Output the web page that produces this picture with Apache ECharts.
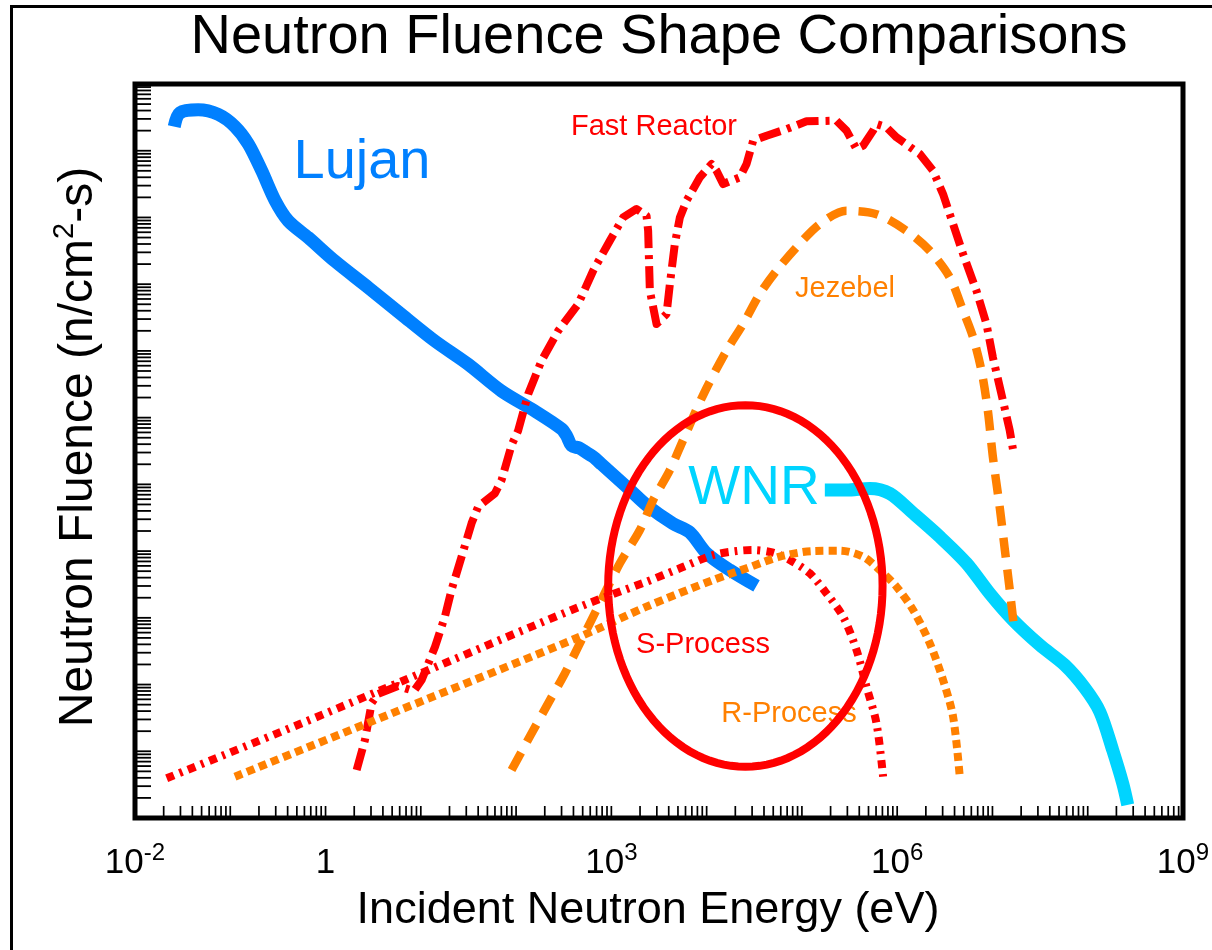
<!DOCTYPE html>
<html>
<head>
<meta charset="utf-8">
<title>Neutron Fluence Shape Comparisons</title>
<script src="https://cdn.jsdelivr.net/npm/echarts@6/dist/echarts.min.js"></script>
<style>
  html, body { margin: 0; padding: 0; background: #fff; }
  #chart { width: 1212px; height: 950px; }
</style>
</head>
<body>
<div id="chart"></div>
<script>
// Incident neutron energy (eV) and relative fluence for each spectrum shape

// Lujan moderated spallation source
const lujanE = [0.0258, 0.0296, 0.0461, 0.0748, 0.112, 0.155, 0.214, 0.295, 0.406, 0.658, 1.26, 2.81, 6.30, 14.1, 31.4, 70.5, 157, 300, 340, 382, 460, 527, 640, 789, 1563, 2339, 4416, 6668, 9977, 17500, 33400];
const lujanF = [2.3e10, 3.7e10, 4.1e10, 3.5e10, 2.3e10, 1.26e10, 5.0e9, 1.8e9, 8.9e8, 5.0e8, 2.2e8, 8.9e7, 3.5e7, 1.4e7, 6.3e6, 2.5e6, 1.26e6, 6.8e5, 5.3e5, 3.8e5, 3.5e5, 3.1e5, 2.6e5, 2.0e5, 8.3e4, 4.9e4, 2.6e4, 1.9e4, 9.3e3, 5.2e3, 3.0e3];

// WNR unmoderated spallation source
const wnrE = [1.74e5, 2.94e5, 5.15e5, 8.36e5, 1.47e6, 2.8e6, 5.33e6, 9.4e6, 1.64e7, 3.13e7, 5.74e7, 9.3e7, 1.34e8, 1.83e8, 2.33e8, 2.63e8];
const wnrF = [8.2e4, 8.2e4, 8.7e4, 7.3e4, 3.7e4, 1.64e4, 6.6e3, 2.3e3, 927, 392, 196, 89, 39, 10.4, 3.3, 1.57];

// Fast reactor spectrum
const fastE = [2.12, 2.59, 3.05, 3.55, 5.75, 8.47, 10.2, 14.1, 17.9, 21.0, 26.8, 34.1, 40.0, 60.0, 70.5, 89.7, 105, 134, 185, 277, 449, 644, 964, 1330, 1837, 2339, 2432, 2535, 2979, 3793, 4111, 4634, 5236, 6152, 8492, 11250, 12700, 14890, 22300, 26240, 30760, 42560, 68870, 111700, 230700, 293800, 374100, 438500, 558500, 606700, 772700, 984000, 1.73e6, 2.38e6, 3.03e6, 3.86e6, 4.92e6, 6.79e6, 8.65e6, 1.01e7, 1.29e7, 1.52e7, 1.64e7];
const fastF = [5.24, 14.7, 52.9, 72.1, 95.1, 80.0, 117, 369, 1040, 2612, 8240, 26060, 46240, 73450, 116200, 389000, 636800, 2.26e6, 7.13e6, 2.01e7, 5.05e7, 1.59e8, 4.48e8, 1.00e9, 1.34e9, 1.06e9, 6.32e8, 7.98e7, 2.53e7, 3.57e7, 1.00e8, 4.0e8, 1.0e9, 1.78e9, 3.99e9, 6.32e9, 5.01e9, 3.17e9, 3.99e9, 6.32e9, 1.41e10, 1.68e10, 2.11e10, 2.76e10, 2.82e10, 2.0e10, 1.06e10, 1.19e10, 2.0e10, 2.51e10, 2.24e10, 1.59e10, 8.93e9, 5.01e9, 2.24e9, 7.97e8, 2.83e8, 7.98e7, 2.53e7, 8.01e6, 1.79e6, 6.37e5, 3.39e5];

// Jezebel critical assembly
const jezE = [89.7, 145.5, 217, 325, 449, 644, 1228, 1991, 2748, 4111, 5662, 9183, 16180, 24150, 36140, 54080, 87700, 154200, 293800, 606700, 1.25e6, 2.20e6, 3.56e6, 4.92e6, 6.26e6, 7.67e6, 8.93e6, 1.01e7, 1.19e7, 1.35e7, 1.52e7, 1.71e7];
const jezF = [5.24, 18.6, 52.3, 147, 369, 1040, 6560, 20700, 58300, 164000, 462000, 2.18e6, 1.01e7, 2.53e7, 7.13e7, 1.59e8, 3.57e8, 7.97e8, 1.26e9, 1.12e9, 6.32e8, 3.17e8, 1.27e8, 4.0e7, 1.60e7, 5.05e6, 1.30e6, 2.60e5, 46200, 10400, 2610, 586];

// Stellar s-process (kT ~ 30 keV) and r-process spectra
const sProcE = [0.0215, 0.538, 20.2, 467, 2339, 5236, 11700, 20600, 30760, 49900, 74650, 121000, 181000, 270600, 374100, 476400, 606700, 711300];
const sProcF = [3.94, 25.6, 225, 1468, 3476, 5520, 8730, 10030, 10380, 9460, 7350, 4645, 2330, 1040, 329, 92.8, 26.2, 4.16];
const rProcE = [0.112, 6.04, 467, 2339, 11700, 26240, 58600, 131200, 250000, 438500, 656000, 984000, 1.47e6, 2.20e6, 3.03e6, 3.86e6, 4.54e6];
const rProcF = [4.16, 41.5, 521, 1468, 3690, 5520, 8240, 10030, 10140, 8240, 5200, 2926, 1309, 415, 117, 33.0, 4.16];

// Highlighted astrophysical region: centre (eV, fluence) and half-axes in decades
const regionCenter = [2.55e4, 3.0e3];
const regionHalfDecades = [1.44, 2.71];

// Axis ranges and labelled energies
const xRange = [1e-2, 1e9];
const yRange = [1, 1e11];
const xLabelValues = [1e-2, 1, 1e3, 1e6, 1e9];
const xLabelBase = ['10', '1', '10', '10', '10'];
const xLabelExp = ['-2', '', '3', '6', '9'];

const FONT = '"Liberation Sans", Arial, Helvetica, sans-serif';
const RED = '#ff0000';
const ORANGE = '#ff8000';
const BLUE = '#0080ff';
const CYAN = '#00d4ff';

function pairs(xs, ys) { return xs.map((x, i) => [x, ys[i]]); }

// Log tick positions (2..10 within every decade of each axis)
function logTicks(lo, hi) {
  const out = [];
  for (let d = Math.round(Math.log10(lo)); d < Math.round(Math.log10(hi)); d++) {
    for (let k = 2; k <= 10; k++) out.push(k * Math.pow(10, d));
  }
  return out;
}
const xTicks = logTicks(xRange[0], xRange[1]);
const yTicks = logTicks(yRange[0], yRange[1]);

const chart = echarts.init(document.getElementById('chart'), null, { renderer: 'canvas' });

function lineSeries(name, xs, ys, color, width, dash, smooth, z) {
  return {
    name, type: 'line', data: pairs(xs, ys), showSymbol: false, symbol: 'none',
    smooth: smooth, z: z,
    lineStyle: { color, width, type: dash, cap: 'butt', join: 'round' },
    emphasis: { disabled: true }, silent: true
  };
}

const option = {
  animation: false,
  backgroundColor: '#ffffff',
  grid: {
    left: 135, right: 29, top: 84, bottom: 132,
    show: true, borderColor: '#000', borderWidth: 5, backgroundColor: 'transparent'
  },
  xAxis: {
    type: 'log', logBase: 10, min: xRange[0], max: xRange[1],
    axisLine: { show: false }, axisTick: { show: false },
    axisLabel: { show: false }, splitLine: { show: false }
  },
  yAxis: {
    type: 'log', logBase: 10, min: yRange[0], max: yRange[1],
    axisLine: { show: false }, axisTick: { show: false },
    axisLabel: { show: false }, splitLine: { show: false }
  },
  series: [
    lineSeries('Lujan', lujanE, lujanF, BLUE, 13, 'solid', 0.3, 2),
    lineSeries('WNR', wnrE, wnrF, CYAN, 13, 'solid', 0.3, 2),
    lineSeries('Fast Reactor', fastE, fastF, RED, 8, [22, 7, 4, 7], false, 3),
    lineSeries('Jezebel', jezE, jezF, ORANGE, 8.5, [20, 12], 0.3, 3),
    lineSeries('S-Process', sProcE, sProcF, RED, 8, [8, 6, 3, 6], 0.3, 3),
    lineSeries('R-Process', rProcE, rProcF, ORANGE, 8, [8, 5], 0.3, 3),
    {
      // ellipse drawn in log space around the stellar-energy region
      name: 'region', type: 'custom', z: 5, silent: true,
      data: [regionCenter],
      renderItem: function (params, api) {
        const cx = Math.log10(api.value(0));
        const cy = Math.log10(api.value(1));
        const pts = [];
        for (let i = 0; i < 120; i++) {
          const t = i / 120 * Math.PI * 2;
          pts.push(api.coord([
            Math.pow(10, cx + regionHalfDecades[0] * Math.cos(t)),
            Math.pow(10, cy + regionHalfDecades[1] * Math.sin(t))
          ]));
        }
        return { type: 'polygon', shape: { points: pts }, style: { fill: 'none', stroke: RED, lineWidth: 8 } };
      }
    },
    {
      name: 'xticks', type: 'custom', z: 6, silent: true,
      data: xTicks.map(v => [v, yRange[0]]),
      renderItem: function (params, api) {
        const p = api.coord([api.value(0), api.value(1)]);
        return { type: 'line', shape: { x1: p[0], y1: p[1], x2: p[0], y2: p[1] - 12 }, style: { stroke: '#000', lineWidth: 1.7 } };
      }
    },
    {
      name: 'yticks', type: 'custom', z: 6, silent: true,
      data: yTicks.map(v => [xRange[0], v]),
      renderItem: function (params, api) {
        const p = api.coord([api.value(0), api.value(1)]);
        return { type: 'line', shape: { x1: p[0], y1: p[1], x2: p[0] + 16, y2: p[1] }, style: { stroke: '#000', lineWidth: 1.8 } };
      }
    },
    {
      name: 'xlabels', type: 'custom', z: 6, silent: true,
      data: xLabelValues.map(v => [v, yRange[0]]),
      renderItem: function (params, api) {
        const i = params.dataIndex;
        const p = api.coord([api.value(0), api.value(1)]);
        const exp = xLabelExp[i];
        const text = '{b|' + xLabelBase[i] + '}' + (exp ? '{s|' + exp + '}' : '');
        return {
          type: 'text', x: p[0], y: p[1] + 40.5,
          style: {
            text: text, align: 'center', verticalAlign: 'middle', fill: '#000',
            rich: {
              b: { fontFamily: FONT, fontSize: 35, lineHeight: 35, padding: [10, 0, 0, 0], fill: '#000' },
              s: { fontFamily: FONT, fontSize: 24, lineHeight: 24, verticalAlign: 'top', fill: '#000' }
            }
          }
        };
      }
    }
  ],
  graphic: [
    {
      type: 'rect', z: 0, silent: true,
      shape: { x: 11.5, y: 6.5, width: 1300, height: 1000 },
      style: { fill: 'none', stroke: '#000', lineWidth: 3 }
    },
    {
      type: 'text', x: 659, y: 38, z: 10,
      style: { text: 'Neutron Fluence Shape Comparisons', font: '56px ' + FONT, fill: '#000', align: 'center', verticalAlign: 'middle' }
    },
    {
      type: 'text', x: 648, y: 911, z: 10,
      style: { text: 'Incident Neutron Energy (eV)', font: '45px ' + FONT, fill: '#000', align: 'center', verticalAlign: 'middle' }
    },
    {
      type: 'text', x: 74, y: 447, rotation: Math.PI / 2, z: 10,
      style: {
        text: '{a|Neutron Fluence (n/cm}{s|2}{a|-s)}', align: 'center', verticalAlign: 'middle', fill: '#000',
        rich: {
          a: { fontFamily: FONT, fontSize: 48, lineHeight: 48, padding: [10, 0, 0, 0], fill: '#000' },
          s: { fontFamily: FONT, fontSize: 29, lineHeight: 29, verticalAlign: 'top', fill: '#000' }
        }
      }
    },
    {
      type: 'text', x: 362, y: 163, z: 10,
      style: { text: 'Lujan', font: '56px ' + FONT, fill: BLUE, align: 'center', verticalAlign: 'middle' }
    },
    {
      type: 'text', x: 754, y: 489, z: 10,
      style: { text: 'WNR', font: '55px ' + FONT, fill: CYAN, align: 'center', verticalAlign: 'middle' }
    },
    {
      type: 'text', x: 654, y: 127, z: 10,
      style: { text: 'Fast Reactor', font: '29px ' + FONT, fill: RED, align: 'center', verticalAlign: 'middle' }
    },
    {
      type: 'text', x: 845, y: 289, z: 10,
      style: { text: 'Jezebel', font: '29px ' + FONT, fill: ORANGE, align: 'center', verticalAlign: 'middle' }
    },
    {
      type: 'text', x: 703, y: 645, z: 10,
      style: { text: 'S-Process', font: '29px ' + FONT, fill: RED, align: 'center', verticalAlign: 'middle' }
    },
    {
      type: 'text', x: 789, y: 714, z: 1,
      style: { text: 'R-Process', font: '29px ' + FONT, fill: ORANGE, align: 'center', verticalAlign: 'middle' }
    }
  ]
};

chart.setOption(option);
</script>
</body>
</html>
